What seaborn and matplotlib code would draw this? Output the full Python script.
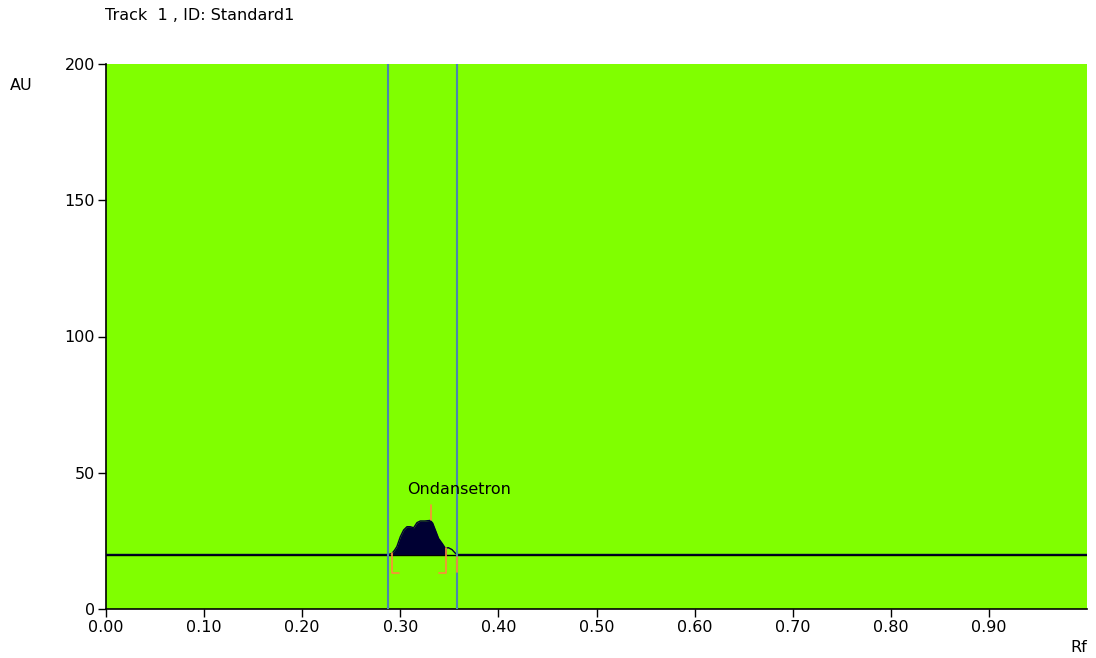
import numpy as np
import pandas as pd
import matplotlib.pyplot as plt
import seaborn as sns

# Data
rf_peak = [0.2880, 0.2915, 0.2940, 0.2965, 0.3000, 0.3034, 0.3068, 0.3102, 0.3136, 0.3170,
           0.3204, 0.3250, 0.3306, 0.3330, 0.3357, 0.3390, 0.3426, 0.3459, 0.3490,
           0.3527, 0.3560, 0.3580]
au_peak = [20.0, 20.4, 21.5, 22.9, 26.5, 29.0, 30.2, 30.2, 29.8, 31.7,
           32.3, 32.3, 32.5, 31.5, 29.0, 25.9, 24.1, 22.3, 22.5,
           21.8, 20.5, 20.0]
baseline_au = 20.0
fill_start, fill_end = 0.2915, 0.3470
boundary_lines = [0.287, 0.358]
peak_name = "Ondansetron"
peak_max_rf = 0.331
x_ticks = [0.0, 0.1, 0.2, 0.3, 0.4, 0.5, 0.6, 0.7, 0.8, 0.9]
y_ticks = [0, 50, 100, 150, 200]

# full profile: baseline outside the peak
rf_all = [0.0] + rf_peak + [1.0]
au_all = [baseline_au] + au_peak + [baseline_au]
df = pd.DataFrame({"Rf": rf_all, "AU": au_all})

sns.set_theme(style="ticks")
plt.rcParams['font.family'] = ['DejaVu Sans']
plt.rcParams['text.color'] = 'black'
plt.rcParams['xtick.labelcolor'] = 'black'
plt.rcParams['ytick.labelcolor'] = 'black'
fs = 11.5

fig = plt.figure(figsize=(10.96, 6.58), dpi=100)
ax = fig.add_axes([106 / 1096, 49 / 658, 981 / 1096, 545 / 658])
ax.set_facecolor('#80FF00')

# baseline
ax.axhline(baseline_au, color='black', lw=1.0, zorder=2)

# filled peak area
rp = np.array(rf_peak)
ap = np.array(au_peak)
mask = (rp >= fill_start) & (rp <= fill_end)
frf = np.concatenate([[fill_start], rp[mask], [fill_end]])
fau = np.concatenate([[np.interp(fill_start, rp, ap)], ap[mask], [np.interp(fill_end, rp, ap)]])
ax.fill_between(frf, baseline_au, fau, color='#000033', lw=0, zorder=3)

# profile curve
sns.lineplot(data=df, x="Rf", y="AU", color='#000033', lw=1.0, ax=ax, zorder=4)

# track boundary lines
for b in boundary_lines:
    ax.axvline(b, color='#4A86B0', lw=1.5, zorder=5)

# peak markers (orange)
orange = '#FF8C3C'
ax.plot([peak_max_rf, peak_max_rf], [32.5, 38.0], color=orange, lw=1.2, zorder=6)
ax.plot([fill_start, fill_start, fill_start + 0.007], [20.5, 13.2, 13.2], color=orange, lw=1.2, zorder=6)
ax.plot([fill_end - 0.008, fill_end, fill_end], [13.2, 13.2, 22.3], color=orange, lw=1.2, zorder=6)
ax.plot([boundary_lines[1], boundary_lines[1]], [19.0, 13.5], color=orange, lw=1.2, zorder=6)

ax.text(0.360, 43.7, peak_name, ha='center', va='center', fontsize=fs, zorder=7)

ax.set_xlim(0, 1.0)
ax.set_ylim(0, 200)
ax.set_xticks(x_ticks)
ax.set_xticklabels([f"{t:.2f}" for t in x_ticks], fontsize=fs)
ax.set_yticks(y_ticks)
ax.set_yticklabels([str(t) for t in y_ticks], fontsize=fs)
ax.tick_params(length=6, width=1, color='black', pad=2)
ax.set_xlabel("")
ax.set_ylabel("")
for side in ['top', 'right']:
    ax.spines[side].set_visible(False)
for side in ['left', 'bottom']:
    ax.spines[side].set_color('black')
    ax.spines[side].set_linewidth(1.2)

fig.text(105 / 1096, 1 - 15 / 658, "Track  1 , ID: Standard1", fontsize=fs, va='center', ha='left')
fig.text(10 / 1096, 1 - 85 / 658, "AU", fontsize=fs, va='center', ha='left')
fig.text(1087 / 1096, 1 - 648 / 658, "Rf", fontsize=fs, va='center', ha='right')

fig.savefig("out.png", dpi=100, facecolor='white')
